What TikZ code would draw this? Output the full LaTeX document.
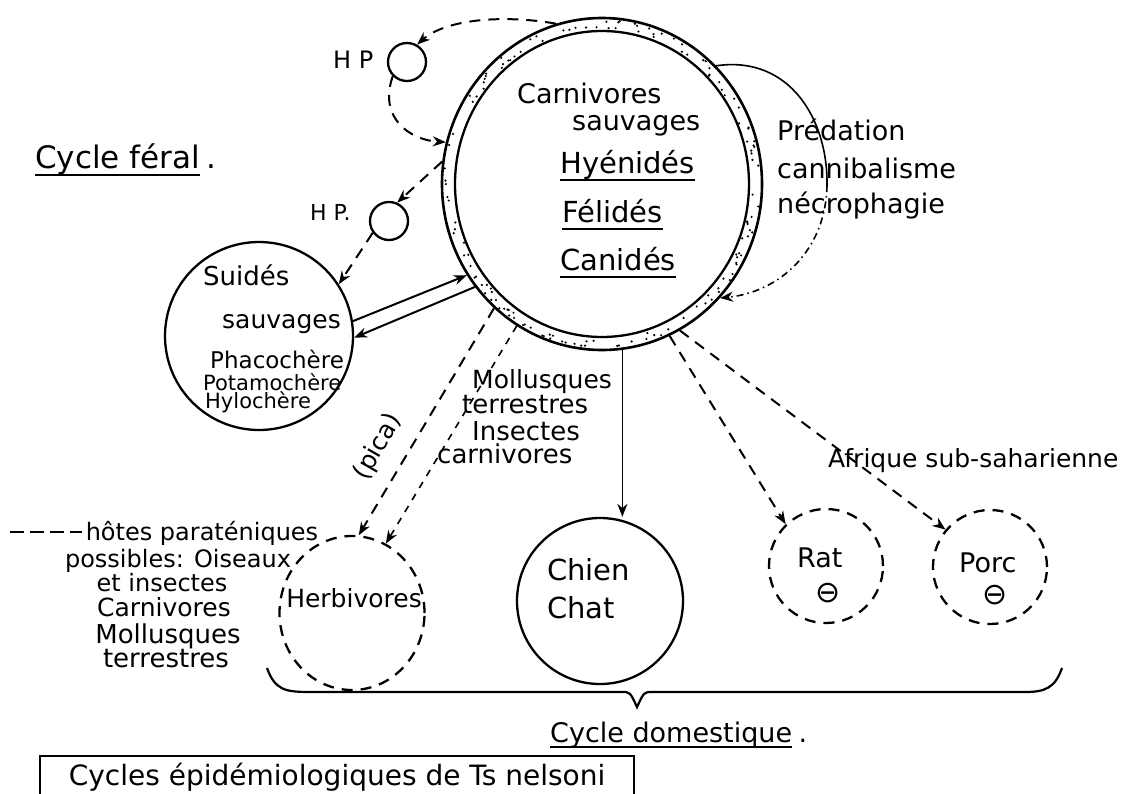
\documentclass[tikz,border=0pt]{standalone}
\usepackage{fontspec}
\setmainfont{DejaVu Sans}
\usetikzlibrary{calc,positioning,shapes.geometric,arrows.meta}
\newcommand{\fsz}[1]{\fontsize{#1}{#1}\selectfont}
\tikzset{
  host/.style={
    draw,
    line width=2.3pt,
    inner sep=0pt,
  },
  hosteph/.style={
    host,
    dash pattern=on 11pt off 8pt,
  },
  hp/.style={
    draw,
    circle,
    minimum size=38pt,
    inner sep=0pt,
    line width=2.3pt,
  },
  lbl/.style={inner sep=0pt, anchor=base west, text depth=0pt},
  flow/.style={line width=2pt, -{Stealth[length=13pt,width=10pt]}},
  dflow/.style={flow, dash pattern=on 11pt off 8pt},
  uline/.style={line width=2pt},
}

\begin{document}
\begin{tikzpicture}[x=1pt,y=-1pt]
  \useasboundingbox (0,0) rectangle (1133,793);

  \node[host, ellipse, minimum width=320pt, minimum height=332pt, line width=2.6pt] (carn) at (602,184) {};
  \node[host, ellipse, minimum width=294pt, minimum height=306pt] (carnin) at (602,184) {};
  \pgfmathsetseed{12}
  \foreach \k in {1,...,140} {
    \pgfmathsetmacro{\ang}{rnd*360}
    \pgfmathsetmacro{\rad}{149+rnd*9}
    \fill (carn.center) ++({\rad*cos(\ang)},{(\rad+6)*sin(\ang)}) circle[radius=1.2];
  }
  \node[lbl, font=\fsz{27}] (carn1) at (517,103) {Carnivores};
  \node[lbl, font=\fsz{27}] (carn2) at (572,130) {sauvages};
  \node[lbl, font=\fsz{29}] (hyen) at (560,173) {Hyénidés};
  \node[lbl, font=\fsz{29}] (feli) at (562,222) {Félidés};
  \node[lbl, font=\fsz{29}] (cani) at (560,270) {Canidés};
  \foreach \n in {hyen,feli,cani}
    \draw[uline] ([yshift=-7pt]\n.base west) -- ([yshift=-7pt]\n.base east);

  \node[hp] (hp1) at (407,62) {};
  \node[hp] (hp2) at (389,221) {};
  \node[lbl, font=\fsz{24}] (hp1lbl) at (333,68) {H P};
  \node[lbl, font=\fsz{22}] (hp2lbl) at (310,220) {H P.};

  \node[lbl, font=\fsz{31}] (feral) at (35,168) {Cycle féral};
  \node[lbl, font=\fsz{31}] (feraldot) at ($(feral.base east)+(6,0)$) {.};
  \draw[uline] ([yshift=-7pt]feral.base west) -- ([yshift=-7pt]feral.base east);

  \node[host, circle, minimum size=188pt] (suid) at (259,336) {};
  \node[lbl, font=\fsz{26}] (suid1) at (203,285) {Suidés};
  \node[lbl, font=\fsz{25}] (suid2) at (222,328) {sauvages};
  \node[lbl, font=\fsz{23}] (suid3) at (210,368) {Phacochère};
  \node[lbl, font=\fsz{21}] (suid4) at (203,390) {Potamochère};
  \node[lbl, font=\fsz{21}] (suid5) at (205,408) {Hylochère};

  \node[lbl, font=\fsz{27}] (pred1) at (777,140) {Prédation};
  \node[lbl, font=\fsz{27}] (pred2) at (777,178) {cannibalisme};
  \node[lbl, font=\fsz{27}] (pred3) at (777,213) {nécrophagie};
  \coordinate (predmid) at (827,185);
  \draw[line width=1.6pt] (carn.46) .. controls (790,55) and (828,120) .. (predmid);
  \draw[line width=1.6pt, dash pattern=on 7pt off 4pt on 1.5pt off 4pt, -{Stealth[length=13pt,width=10pt]}]
    (predmid) .. controls (826,250) and (780,292) .. (carn.-44);

  \node[hosteph, ellipse, minimum width=145pt, minimum height=154pt] (herb) at (352,613) {};
  \node[lbl, anchor=base, font=\fsz{25}] (herbt) at (354,607) {Herbivores};
  \node[host, circle, minimum size=166pt] (chien) at (600,601) {};
  \node[lbl, font=\fsz{29}] (chien1) at (547,580) {Chien};
  \node[lbl, font=\fsz{29}] (chien2) at (547,618) {Chat};
  \node[hosteph, circle, minimum size=114pt] (rat) at (826,566) {};
  \node[lbl, font=\fsz{27}] (ratt) at (797,567) {Rat};
  \node[inner sep=0pt, font=\fsz{30}] (ratneg) at (828,593) {⊖};
  \node[hosteph, circle, minimum size=114pt] (porc) at (990,567) {};
  \node[lbl, font=\fsz{27}] (porct) at (959,572) {Porc};
  \node[inner sep=0pt, font=\fsz{30}] (porcneg) at (995,595) {⊖};

  \draw[dflow] (carn.106) .. controls (500,14) and (445,20) .. (hp1.60);
  \draw[dflow] (hp1.225) .. controls (378,118) and (410,140) .. (carn.165);
  \draw[dflow] (carn.172) -- (hp2.66);
  \draw[dflow] (hp2.216) -- (suid.33);
  \draw[flow] (suid.9) -- (carn.214);
  \draw[flow] (carn.219) -- (suid.-1);
  \draw[dflow] (carn.229) -- (herb.85);
  \draw[dflow, line width=1.6pt, dash pattern=on 7pt off 7pt] (carn.239) -- (herb.64);
  \draw[flow, line width=1.6pt] (carn.-83) -- (carn.-83 |- chien.north);
  \draw[dflow] (carn.-66) -- (rat.134);
  \draw[dflow] (carn.-62) -- (porc.140);

  \node[inner sep=0pt, rotate=60, font=\fsz{25}] (pica) at (378,447) {(pica)};
  \node[lbl, font=\fsz{25}] (moll1) at (472,388) {Mollusques};
  \node[lbl, font=\fsz{26}] (moll2) at (462,413) {terrestres};
  \node[lbl, font=\fsz{26}] (moll3) at (472,440) {Insectes};
  \node[lbl, font=\fsz{26}] (moll4) at (437,463) {carnivores};
  \node[lbl, font=\fsz{25}] (afr) at (828,467) {Afrique sub-saharienne};

  \node[lbl, anchor=base, font=\fsz{24}] (hotes) at (202,540) {hôtes paraténiques};
  \node[lbl, anchor=base, font=\fsz{24}] (para2) at (178,567) {possibles: Oiseaux};
  \node[lbl, anchor=base, font=\fsz{24}] (para3) at (162,591) {et insectes};
  \node[lbl, anchor=base, font=\fsz{25}] (para4) at (164,616) {Carnivores};
  \node[lbl, anchor=base, font=\fsz{26}] (para5) at (168,643) {Mollusques};
  \node[lbl, anchor=base, font=\fsz{26}] (para6) at (166,667) {terrestres};
  \coordinate (leg) at (10,532);
  \draw[line width=2.2pt, dash pattern=on 14pt off 6pt] (leg) -- ([xshift=-4pt]leg -| hotes.west);

  \draw[line width=2.2pt] (267,668) .. controls (275,690) and (285,692) .. (310,692) -- (622,692)
    .. controls (630,692) .. (637,707) .. controls (644,692) .. (652,692) -- (1025,692)
    .. controls (1045,692) and (1055,688) .. (1062,668);
  \node[lbl, font=\fsz{27}] (dom) at (550,742) {Cycle domestique};
  \node[lbl, font=\fsz{27}] (domdot) at ($(dom.base east)+(6,0)$) {.};
  \draw[uline] ([yshift=-5pt]dom.base west) -- ([yshift=-5pt]dom.base east);

  \node[draw, line width=2.2pt, anchor=north west, minimum width=594pt, minimum height=42pt,
    inner sep=0pt, font=\fsz{28}] (title) at (39,755) {Cycles épidémiologiques de Ts nelsoni};
\end{tikzpicture}
\end{document}
